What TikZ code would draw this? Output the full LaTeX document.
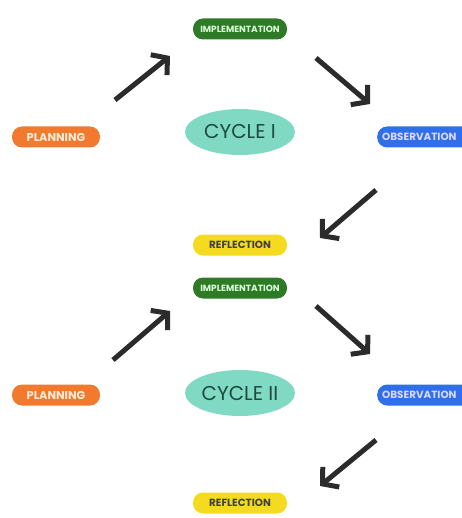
\documentclass[tikz,border=0pt]{standalone}
\usepackage{fontspec}
\setmainfont{Poppins}
\usetikzlibrary{arrows.meta,shapes.geometric}
\definecolor{cgreen}{HTML}{2E7A27}
\definecolor{corange}{HTML}{F27A2E}
\definecolor{cblue}{HTML}{2F6FEA}
\definecolor{cyellow}{HTML}{F5DB1F}
\definecolor{cteal}{HTML}{80D9C2}
\definecolor{ctext}{HTML}{1E4A40}
\definecolor{carrow}{HTML}{2B2B2B}
\tikzset{
  pill/.style={rounded corners=10pt, minimum height=21pt, inner sep=0pt},
  implbox/.style={pill, fill=cgreen, text=white!85!green, minimum width=94pt, font=\fontsize{9}{9}\selectfont\bfseries},
  planbox/.style={pill, fill=corange, text=white!85!orange, minimum width=88pt, font=\fontsize{11.4}{12}\selectfont\bfseries},
  obsbox/.style={pill, fill=cblue, text=white!85!blue, minimum width=100pt, inner xsep=5pt, align=left, text width=90pt, font=\fontsize{10.4}{11}\selectfont\bfseries},
  reflbox/.style={pill, fill=cyellow, text=black!75, minimum width=94pt, font=\fontsize{10.4}{11}\selectfont\bfseries},
  cyclebox/.style={ellipse, fill=cteal, text=ctext, minimum width=110pt, minimum height=46pt, inner sep=0pt, font=\fontsize{20}{21}\selectfont},
  bigarrow/.style={draw=carrow, line width=5pt, -{Straight Barb[length=11pt,width=26pt]}},
}
\begin{document}
\begin{tikzpicture}[x=1pt,y=-1pt]
\useasboundingbox (0,0) rectangle (461,518);
% cycle I
\node[implbox] (impl1) at (240,29) {IMPLEMENTATION};
\node[planbox] (plan1) at (56,137) {PLANNING};
\node[cyclebox] (cyc1) at (240,132) {CYCLE I};
\node[obsbox, anchor=west] (obs1) at (377,137) {OBSERVATION};
\node[reflbox] (refl1) at (240,245) {REFLECTION};
\coordinate (a1s) at (115,100); \coordinate (a1e) at (170,56);
\coordinate (a2s) at (316,58); \coordinate (a2e) at (370,104);
\coordinate (a3s) at (376,190); \coordinate (a3e) at (320,238);
\draw[bigarrow] (a1s) -- (a1e);
\draw[bigarrow] (a2s) -- (a2e);
\draw[bigarrow] (a3s) -- (a3e);
% cycle II
\node[implbox] (impl2) at (240,288) {IMPLEMENTATION};
\node[planbox] (plan2) at (56,395) {PLANNING};
\node[cyclebox] (cyc2) at (240,393) {CYCLE II};
\node[obsbox, anchor=west] (obs2) at (377,395) {OBSERVATION};
\node[reflbox] (refl2) at (240,503) {REFLECTION};
\coordinate (b1s) at (113,360); \coordinate (b1e) at (170,311);
\coordinate (b2s) at (316,306); \coordinate (b2e) at (370,354);
\coordinate (b3s) at (376,440); \coordinate (b3e) at (320,486);
\draw[bigarrow] (b1s) -- (b1e);
\draw[bigarrow] (b2s) -- (b2e);
\draw[bigarrow] (b3s) -- (b3e);
\end{tikzpicture}
\end{document}
